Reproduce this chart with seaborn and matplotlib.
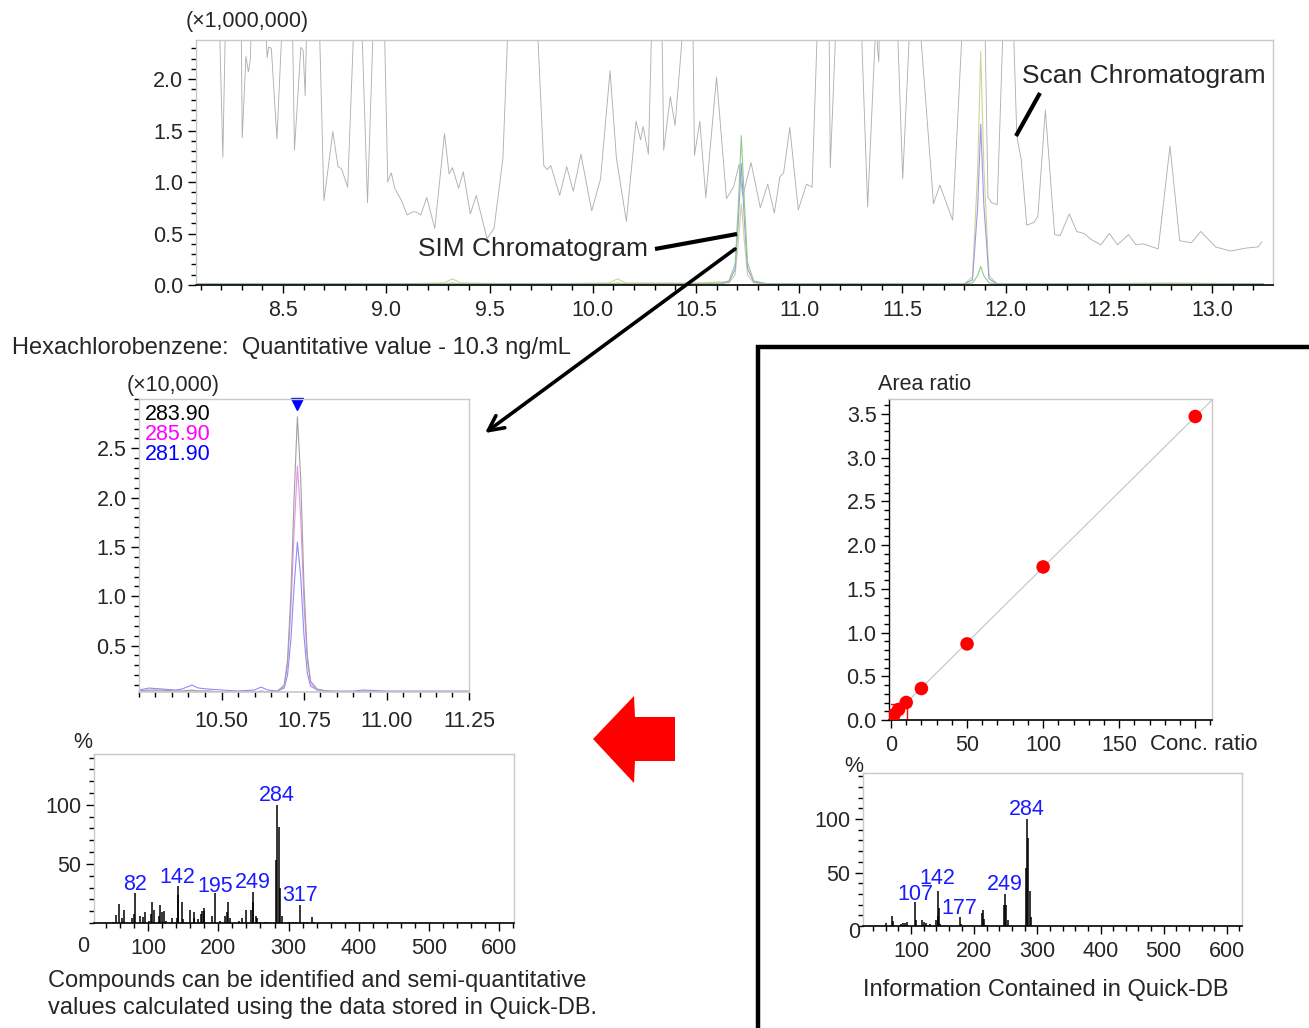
import numpy as np
import pandas as pd
import matplotlib
matplotlib.use("Agg")
import matplotlib.pyplot as plt
from matplotlib.ticker import MultipleLocator, FormatStrFormatter
from matplotlib.patches import Polygon
import seaborn as sns

sns.set_theme(style="ticks")
plt.rcParams['font.family'] = ['Liberation Sans', 'DejaVu Sans']

W, H = 1309, 1028

# ---- scan chromatogram (TIC), x1,000,000 ----
scan_rt = [8.08, 8.186, 8.208, 8.225, 8.26, 8.295, 8.302, 8.32, 8.332, 8.342,
           8.35, 8.40, 8.418, 8.423, 8.43, 8.443, 8.47, 8.497, 8.52, 8.545,
           8.555, 8.586, 8.597, 8.607, 8.615, 8.65, 8.675, 8.698, 8.741, 8.766,
           8.783, 8.813, 8.844, 8.87, 8.88, 8.909, 8.938, 8.96, 8.99, 9.007,
           9.024, 9.041, 9.076, 9.101, 9.127, 9.144, 9.167, 9.196, 9.235, 9.282,
           9.304, 9.321, 9.35, 9.373, 9.407, 9.436, 9.488, 9.522, 9.565, 9.591,
           9.66, 9.73, 9.763, 9.78, 9.797, 9.84, 9.874, 9.906, 9.943, 9.995,
           10.038, 10.084, 10.115, 10.163, 10.21, 10.232, 10.244, 10.27, 10.287, 10.31,
           10.335, 10.344, 10.376, 10.399, 10.428, 10.44, 10.465, 10.485, 10.493, 10.519,
           10.548, 10.60, 10.648, 10.682, 10.709, 10.727, 10.767, 10.812, 10.848, 10.88,
           10.907, 10.925, 10.955, 10.996, 11.036, 11.063, 11.09, 11.12, 11.145, 11.151,
           11.18, 11.23, 11.30, 11.332, 11.373, 11.38, 11.386, 11.39, 11.43, 11.475,
           11.502, 11.538, 11.56, 11.583, 11.651, 11.682, 11.744, 11.793, 11.85, 11.90,
           11.915, 11.933, 11.96, 11.99, 12.01, 12.037, 12.055, 12.076, 12.103, 12.139,
           12.157, 12.193, 12.238, 12.265, 12.309, 12.345, 12.381, 12.417, 12.462, 12.503,
           12.543, 12.596, 12.632, 12.668, 12.74, 12.797, 12.844, 12.901, 12.946, 13.018,
           13.09, 13.17, 13.224, 13.242]
scan_int = [4.0, 3.0, 1.24, 3.0, 4.0, 3.0, 1.43, 2.22, 2.07, 2.20,
            3.0, 4.0, 2.40, 2.21, 2.31, 2.30, 1.42, 2.6, 4.0, 2.6,
            1.31, 2.31, 2.28, 1.84, 2.6, 4.0, 2.6, 0.82, 1.49, 1.15,
            1.13, 0.95, 2.6, 4.0, 2.6, 0.80, 2.6, 4.0, 2.6, 1.00,
            1.09, 0.94, 0.81, 0.68, 0.71, 0.71, 0.68, 0.85, 0.55, 1.47,
            1.08, 1.14, 0.94, 1.10, 0.69, 0.87, 0.45, 0.55, 1.23, 2.6,
            4.0, 2.6, 1.16, 1.12, 1.16, 0.87, 1.15, 0.91, 1.27, 0.72,
            1.03, 2.08, 1.23, 0.62, 1.59, 1.41, 1.54, 1.27, 2.6, 4.0,
            2.6, 1.31, 1.83, 1.55, 2.27, 2.6, 4.0, 2.6, 1.26, 1.59,
            0.85, 2.02, 0.84, 0.95, 1.17, 0.86, 1.19, 0.75, 0.98, 0.70,
            1.05, 1.09, 1.53, 0.73, 0.98, 0.95, 2.6, 4.0, 2.6, 1.14,
            2.6, 4.0, 2.6, 0.76, 2.6, 2.30, 2.17, 2.6, 4.0, 2.6,
            1.03, 2.6, 4.0, 2.6, 0.79, 0.97, 0.63, 2.6, 4.0, 2.6,
            0.85, 0.80, 0.78, 2.6, 4.0, 2.6, 1.44, 1.22, 0.58, 0.61,
            0.67, 1.70, 0.49, 0.48, 0.69, 0.52, 0.50, 0.44, 0.39, 0.50,
            0.39, 0.49, 0.39, 0.40, 0.35, 1.35, 0.43, 0.41, 0.52, 0.37,
            0.33, 0.36, 0.37, 0.42]

# ---- SIM traces in the overview (x1,000,000) ----
sim_rt = [8.08, 8.5, 9.0, 9.28, 9.32, 9.36, 9.7, 10.08, 10.12, 10.16,
          10.5, 10.62, 10.66, 10.69, 10.705, 10.72, 10.735, 10.75, 10.78, 10.85,
          11.2, 11.6, 11.80, 11.84, 11.865, 11.88, 11.895, 11.92, 11.96, 12.3,
          12.8, 13.25]
sim_green = [0.01, 0.01, 0.01, 0.01, 0.02, 0.01, 0.01, 0.01, 0.02, 0.01,
             0.01, 0.02, 0.04, 0.20, 0.75, 1.45, 0.80, 0.22, 0.04, 0.01,
             0.01, 0.01, 0.01, 0.02, 0.09, 0.18, 0.09, 0.02, 0.01, 0.01,
             0.01, 0.01]
sim_blue = [0.01, 0.01, 0.01, 0.01, 0.01, 0.01, 0.01, 0.01, 0.01, 0.01,
            0.01, 0.01, 0.03, 0.15, 0.60, 1.18, 0.62, 0.16, 0.03, 0.01,
            0.01, 0.01, 0.01, 0.05, 0.75, 1.56, 0.78, 0.06, 0.01, 0.01,
            0.01, 0.01]
sim_yellow = [0.01, 0.01, 0.01, 0.02, 0.06, 0.02, 0.01, 0.02, 0.06, 0.02,
              0.02, 0.03, 0.02, 0.10, 0.40, 0.79, 0.42, 0.10, 0.02, 0.01,
              0.01, 0.01, 0.01, 0.08, 1.10, 2.27, 1.15, 0.09, 0.01, 0.01,
              0.02, 0.01]

# ---- hexachlorobenzene SIM (x10,000) ----
hcb_rt = [10.25, 10.28, 10.32, 10.36, 10.38, 10.41, 10.43, 10.46, 10.50, 10.55,
          10.60, 10.62, 10.64, 10.67, 10.69, 10.70, 10.71, 10.72, 10.73, 10.74,
          10.75, 10.76, 10.77, 10.79, 10.82, 10.85, 10.90, 10.93, 11.00, 11.10,
          11.25]
hcb_284 = [0.04, 0.05, 0.05, 0.04, 0.04, 0.05, 0.04, 0.04, 0.03, 0.03,
           0.03, 0.04, 0.03, 0.04, 0.10, 0.35, 1.00, 2.00, 2.82, 2.20,
           1.10, 0.40, 0.14, 0.06, 0.04, 0.03, 0.03, 0.04, 0.03, 0.03,
           0.03]
hcb_286 = [0.04, 0.04, 0.04, 0.04, 0.04, 0.04, 0.04, 0.04, 0.03, 0.03,
           0.03, 0.03, 0.03, 0.04, 0.09, 0.30, 0.85, 1.65, 2.32, 1.80,
           0.92, 0.35, 0.12, 0.05, 0.04, 0.03, 0.03, 0.03, 0.03, 0.03,
           0.03]
hcb_282 = [0.05, 0.07, 0.06, 0.05, 0.06, 0.10, 0.07, 0.06, 0.05, 0.04,
           0.05, 0.08, 0.05, 0.04, 0.07, 0.20, 0.55, 1.10, 1.55, 1.20,
           0.60, 0.22, 0.09, 0.05, 0.04, 0.04, 0.04, 0.05, 0.04, 0.04,
           0.04]

# ---- measured mass spectrum ----
ms1_mz = [50, 54, 59, 63, 66, 77, 80, 82, 88, 93,
          95, 101, 104, 106, 108, 115, 117, 120, 122, 125,
          134, 141, 142, 143, 149, 150, 159, 165, 166, 171,
          175, 177, 179, 180, 191, 195, 202, 209, 212, 214,
          216, 229, 234, 239, 246, 249, 250, 254, 255, 260,
          266, 271, 282, 284, 286, 288, 290, 300, 306, 311,
          317, 322, 326, 333, 335]
ms1_int = [1, 7, 16, 4, 11, 4, 8, 25, 6, 5,
           9, 2, 8, 18, 11, 6, 15, 9, 10, 2,
           4, 4, 31, 24, 18, 3, 11, 9, 4, 3,
           8, 10, 10, 13, 6, 25, 2, 6, 9, 18,
           4, 2, 4, 11, 11, 26, 18, 6, 4, 1,
           1, 1, 53, 100, 81, 30, 6, 1, 1, 1,
           15, 1, 1, 5, 1]
ms1_labels = [82, 142, 195, 249, 284, 317]
ms1_label_dy = [-1, -1, -3, -1, -1, -1]

# ---- library spectrum (Quick-DB) ----
ms2_mz = [60, 70, 72, 84, 88, 90, 94, 107, 108, 118,
          121, 124, 130, 140, 142, 143, 144, 146, 177, 179,
          212, 214, 216, 219, 247, 249, 251, 254, 282, 284,
          286, 288, 290]
ms2_int = [3, 9, 5, 2, 3, 3, 4, 22, 6, 6,
           4, 3, 2, 6, 33, 9, 17, 2, 8, 2,
           12, 15, 7, 1, 20, 30, 20, 6, 54, 100,
           82, 33, 8]
ms2_labels = [107, 142, 177, 249, 284]
ms2_label_dy = [-2, 2, -1, -1, -1]

# ---- calibration curve ----
cal_conc = [1, 2, 5, 10, 20, 50, 100, 200]
cal_area = [0.04, 0.06, 0.12, 0.20, 0.36, 0.87, 1.75, 3.47]
quant_conc, quant_area = 10.3, 0.185

FS = 15.5
TXT = 17
FRAME = '#c8c8c8'


def box(l, t, r, b):
    return [l / W, 1 - b / H, (r - l) / W, (b - t) / H]


def style(ax, left='#c8c8c8', bottom='black', xpad=4.5):
    for s in ['top', 'right']:
        ax.spines[s].set_color(FRAME)
        ax.spines[s].set_linewidth(1)
    ax.spines['left'].set_color(left)
    ax.spines['bottom'].set_color(bottom)
    ax.spines['left'].set_linewidth(1)
    ax.spines['bottom'].set_linewidth(1.2)
    ax.tick_params(which='both', direction='out', color='black', width=1,
                   labelsize=FS, top=False, right=False)
    ax.tick_params(which='major', length=6, pad=3)
    ax.tick_params(which='minor', length=3.5)
    ax.tick_params(axis='x', which='major', pad=xpad)
    ax.set_xlabel('')
    ax.set_ylabel('')


fig = plt.figure(figsize=(W / 100, H / 100), dpi=100)

# top: scan + SIM overview
ax1 = fig.add_axes(box(196, 40, 1273, 285))
sns.lineplot(x=scan_rt, y=scan_int, ax=ax1, color='#b0b0b0', lw=0.65, estimator=None, sort=False)
sns.lineplot(x=sim_rt, y=sim_yellow, ax=ax1, color='#d2d296', lw=0.8, estimator=None, sort=False)
sns.lineplot(x=sim_rt, y=sim_blue, ax=ax1, color='#9a9ae6', lw=0.8, estimator=None, sort=False)
sns.lineplot(x=sim_rt, y=sim_green, ax=ax1, color='#8fcb8f', lw=0.8, estimator=None, sort=False)
ax1.set_xlim(8.078, 13.296)
ax1.set_ylim(0, 2.38)
ax1.xaxis.set_major_locator(MultipleLocator(0.5))
ax1.xaxis.set_minor_locator(MultipleLocator(0.1))
ax1.xaxis.set_major_formatter(FormatStrFormatter('%.1f'))
ax1.yaxis.set_major_locator(MultipleLocator(0.5))
ax1.yaxis.set_minor_locator(MultipleLocator(0.1))
ax1.yaxis.set_major_formatter(FormatStrFormatter('%.1f'))
style(ax1)

# hexachlorobenzene SIM
ax2 = fig.add_axes(box(139, 399, 469, 692))
sns.lineplot(x=hcb_rt, y=hcb_282, ax=ax2, color='#8c8cff', lw=0.8, estimator=None, sort=False)
sns.lineplot(x=hcb_rt, y=hcb_286, ax=ax2, color='#e890e8', lw=0.8, estimator=None, sort=False)
sns.lineplot(x=hcb_rt, y=hcb_284, ax=ax2, color='#a0a0a0', lw=0.8, estimator=None, sort=False)
ax2.plot([10.73], [2.95], marker='v', color='#0000ff', ms=9, clip_on=False)
ax2.set_xlim(10.25, 11.25)
ax2.set_ylim(0.03, 3.0)
ax2.set_xticks([10.5, 10.75, 11.0, 11.25])
ax2.xaxis.set_major_formatter(FormatStrFormatter('%.2f'))
ax2.xaxis.set_minor_locator(MultipleLocator(0.05))
ax2.set_yticks([0.5, 1.0, 1.5, 2.0, 2.5])
ax2.yaxis.set_major_formatter(FormatStrFormatter('%.1f'))
ax2.yaxis.set_minor_locator(MultipleLocator(0.1))
style(ax2, bottom='#c8c8c8', xpad=8)


def spectrum(ax, mz, inten, labels, label_dy):
    ax.vlines(mz, 0, inten, color='black', lw=1.1)
    lookup = dict(zip(mz, inten))
    for m, dy in zip(labels, label_dy):
        ax.text(m, lookup[m] + dy, str(m), color='#1a1aff', fontsize=FS,
                ha='center', va='bottom')
    ax.set_ylim(0, 143)
    ax.set_yticks([50, 100])
    ax.yaxis.set_minor_locator(MultipleLocator(10))
    ax.xaxis.set_major_locator(MultipleLocator(100))
    ax.xaxis.set_minor_locator(MultipleLocator(20))
    style(ax)


ax3 = fig.add_axes(box(94, 754, 514, 923))
spectrum(ax3, ms1_mz, ms1_int, ms1_labels, ms1_label_dy)
ax3.set_xlim(23, 621)

ax5 = fig.add_axes(box(863, 773, 1242, 926))
spectrum(ax5, ms2_mz, ms2_int, ms2_labels, ms2_label_dy)
ax5.set_xlim(24, 624)

# calibration curve
ax4 = fig.add_axes(box(889, 399, 1212, 720))
ax4.set_xlim(-1.3, 211)
ax4.set_ylim(0, 3.67)
sns.regplot(x=cal_conc, y=cal_area, ax=ax4, scatter=False, ci=None, truncate=False,
            color='#c4c4c4', line_kws={'lw': 0.8})
sns.scatterplot(x=cal_conc, y=cal_area, ax=ax4, color='#ff0000', s=95,
                edgecolor='none', zorder=3)
ax4.plot([0, quant_conc, quant_conc], [quant_area, quant_area, 0], color='#ff0000', lw=1)
ax4.set_xlim(-1.3, 211)
ax4.set_ylim(0, 3.67)
ax4.set_xticks([0, 50, 100, 150, 200])
ax4.set_xticklabels(['0', '50', '100', '150', ''])
ax4.xaxis.set_minor_locator(MultipleLocator(10))
ax4.yaxis.set_major_locator(MultipleLocator(0.5))
ax4.yaxis.set_minor_locator(MultipleLocator(0.1))
ax4.yaxis.set_major_formatter(FormatStrFormatter('%.1f'))
style(ax4, left='black')

# overlay for annotations, in pixel coordinates
ov = fig.add_axes([0, 0, 1, 1], zorder=10)
ov.set_xlim(0, W)
ov.set_ylim(H, 0)
ov.axis('off')

ov.text(247, 22, '(\u00d71,000,000)', fontsize=FS, ha='center', va='center')
ov.text(12, 348, 'Hexachlorobenzene:  Quantitative value - 10.3 ng/mL', fontsize=TXT,
        ha='left', va='center')
ov.text(173, 386, '(\u00d710,000)', fontsize=FS, ha='center', va='center')
ov.text(145, 414, '283.90', color='black', fontsize=FS, ha='left', va='center')
ov.text(145, 434, '285.90', color='#ff00ff', fontsize=FS, ha='left', va='center')
ov.text(145, 454, '281.90', color='#0000ff', fontsize=FS, ha='left', va='center')
ov.text(83, 743, '%', fontsize=FS, ha='center', va='center')
ov.text(83, 946, '0', fontsize=FS, ha='center', va='center')
ov.text(854, 767, '%', fontsize=FS, ha='center', va='center')
ov.text(854, 932, '0', fontsize=FS, ha='center', va='center')
ov.text(925, 385, 'Area ratio', fontsize=FS, ha='center', va='center')
ov.text(1204, 744, 'Conc. ratio', fontsize=FS + 0.5, ha='center', va='center')
ov.text(648, 249, 'SIM Chromatogram', fontsize=19, ha='right', va='center')
ov.text(1022, 76, 'Scan Chromatogram', fontsize=19, ha='left', va='center')
ov.text(48, 981, 'Compounds can be identified and semi-quantitative', fontsize=TXT,
        ha='left', va='center')
ov.text(48, 1008, 'values calculated using the data stored in Quick-DB.', fontsize=TXT,
        ha='left', va='center')
ov.text(1046, 990, 'Information Contained in Quick-DB', fontsize=TXT,
        ha='center', va='center')

# pointer lines and arrow
ov.plot([655, 737], [249, 234], color='black', lw=3, solid_capstyle='butt')
ov.plot([1040, 1016], [93, 136], color='black', lw=3, solid_capstyle='butt')
ov.annotate('', xy=(485, 433), xytext=(735, 249),
            arrowprops=dict(arrowstyle='->,head_length=0.9,head_width=0.45', lw=2.6,
                            color='black', shrinkA=0, shrinkB=0))

# red block arrow
ov.add_patch(Polygon([(593, 739), (634, 696), (635, 717), (675, 717), (675, 761),
                      (635, 761), (634, 783)], closed=True, fc='#ff0000', ec='none'))

# box around the database panel
ov.plot([758, 758, W + 5], [H + 5, 347, 347], color='black', lw=3.2, solid_joinstyle='miter')

fig.savefig('out.png', dpi=100)
